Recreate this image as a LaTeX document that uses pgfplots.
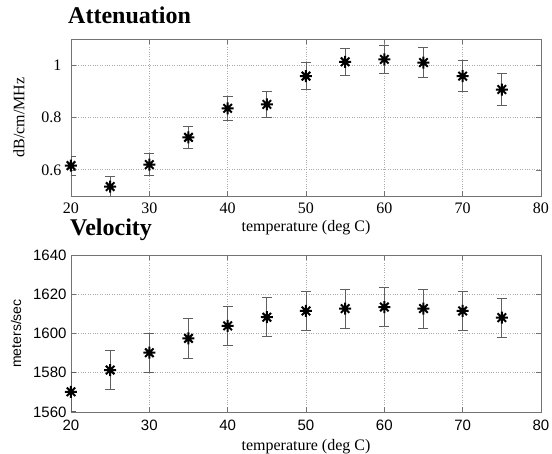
\documentclass[border=0pt]{standalone}
\usepackage{fontspec}
\setmainfont{Liberation Serif}
\newfontfamily\arial{Liberation Sans}
\usepackage{pgfplots}
\pgfplotsset{compat=1.18}
\definecolor{frame}{RGB}{115,115,115}
\definecolor{gridc}{RGB}{170,170,170}
\definecolor{errc}{RGB}{95,95,95}

% eight-armed asterisk like the matlab '*'
\pgfdeclareplotmark{star8}{%
  \pgfpathmoveto{\pgfqpoint{0pt}{\pgfplotmarksize}}%
  \pgfpathlineto{\pgfqpoint{0pt}{-\pgfplotmarksize}}%
  \pgfpathmoveto{\pgfqpoint{\pgfplotmarksize}{0pt}}%
  \pgfpathlineto{\pgfqpoint{-\pgfplotmarksize}{0pt}}%
  \pgfpathmoveto{\pgfqpoint{0.7071\pgfplotmarksize}{0.7071\pgfplotmarksize}}%
  \pgfpathlineto{\pgfqpoint{-0.7071\pgfplotmarksize}{-0.7071\pgfplotmarksize}}%
  \pgfpathmoveto{\pgfqpoint{0.7071\pgfplotmarksize}{-0.7071\pgfplotmarksize}}%
  \pgfpathlineto{\pgfqpoint{-0.7071\pgfplotmarksize}{0.7071\pgfplotmarksize}}%
  \pgfusepathqstroke}

\pgfplotsset{
  mlab/.style={
    scale only axis, width=470pt, height=157pt,
    xmin=20, xmax=80, xtick={20,30,...,80},
    axis line style={frame, line width=0.8pt},
    tick style={frame, line width=0.6pt}, tick align=inside,
    major tick length=5pt,
    grid=major, grid style={gridc, dotted, line width=0.8pt},
    xlabel={temperature (deg C)},
    every axis x label/.style={at={(rel axis cs:0.5,0)}, anchor=base,
      font=\fontsize{16}{18}\selectfont},
    title style={at={(rel axis cs:0,1)}, anchor=base west, inner sep=0pt,
      font=\fontsize{24}{26}\selectfont\bfseries},
    /pgf/number format/assume math mode=true,
    error bars/y dir=both, error bars/y explicit,
    error bars/error bar style={errc, line width=0.8pt},
    error bars/error mark options={rotate=90, errc, mark size=5pt, line width=0.8pt},
  },
  pts/.style={only marks, mark=star8, mark size=6pt, black,
    mark options={line width=2pt}},
}

\begin{document}
\begin{tikzpicture}
\begin{axis}[mlab, at={(0,216pt)},
  ymin=0.5, ymax=1.1, ytick={0.6,0.8,1},
  title={Attenuation},
  title style={xshift=-3pt, yshift=10pt},
  xlabel style={yshift=-36pt},
  ylabel={dB/cm/MHz},
  every axis y label/.style={at={(axis description cs:-0.1106,0.5)},
    rotate=90, anchor=center, font=\fontsize{16}{18}\selectfont},
  tick label style={font=\fontsize{16}{18}\selectfont},
  xticklabel style={yshift=-3pt},
  yticklabel style={xshift=-6pt, /pgf/number format/fixed}]
\addplot[pts] coordinates {
  (20,0.616) +- (0,0.037)
  (25,0.536) +- (0,0.040)
  (30,0.620) +- (0,0.042)
  (35,0.724) +- (0,0.043)
  (40,0.835) +- (0,0.045)
  (45,0.850) +- (0,0.050)
  (50,0.958) +- (0,0.051)
  (55,1.013) +- (0,0.052)
  (60,1.022) +- (0,0.055)
  (65,1.010) +- (0,0.057)
  (70,0.958) +- (0,0.059)
  (75,0.907) +- (0,0.062)
};
\end{axis}

\begin{axis}[mlab, at={(0,0)},
  ymin=1560, ymax=1640, ytick={1560,1580,...,1640},
  title={Velocity},
  title style={xshift=-1pt, yshift=14pt},
  xlabel style={yshift=-38pt},
  ylabel={meters/sec},
  every axis y label/.style={at={(axis description cs:-0.117,0.5)},
    rotate=90, anchor=center, font=\arial\fontsize{14}{16}\selectfont},
  tick label style={font=\arial\fontsize{15}{17}\selectfont},
  xticklabel style={yshift=-4pt},
  yticklabel style={xshift=-1pt, /pgf/number format/1000 sep={}}]
\addplot[pts] coordinates {
  (20,1570.3) +- (0,10)
  (25,1581.4) +- (0,10)
  (30,1590.2) +- (0,10)
  (35,1597.5) +- (0,10)
  (40,1603.9) +- (0,10)
  (45,1608.3) +- (0,10)
  (50,1611.5) +- (0,10)
  (55,1612.7) +- (0,10)
  (60,1613.5) +- (0,10)
  (65,1612.7) +- (0,10)
  (70,1611.5) +- (0,10)
  (75,1608.1) +- (0,10)
};
\end{axis}
\pgfresetboundingbox
\useasboundingbox (-71pt,-41pt) rectangle (481pt,412pt);
\end{tikzpicture}
\end{document}
